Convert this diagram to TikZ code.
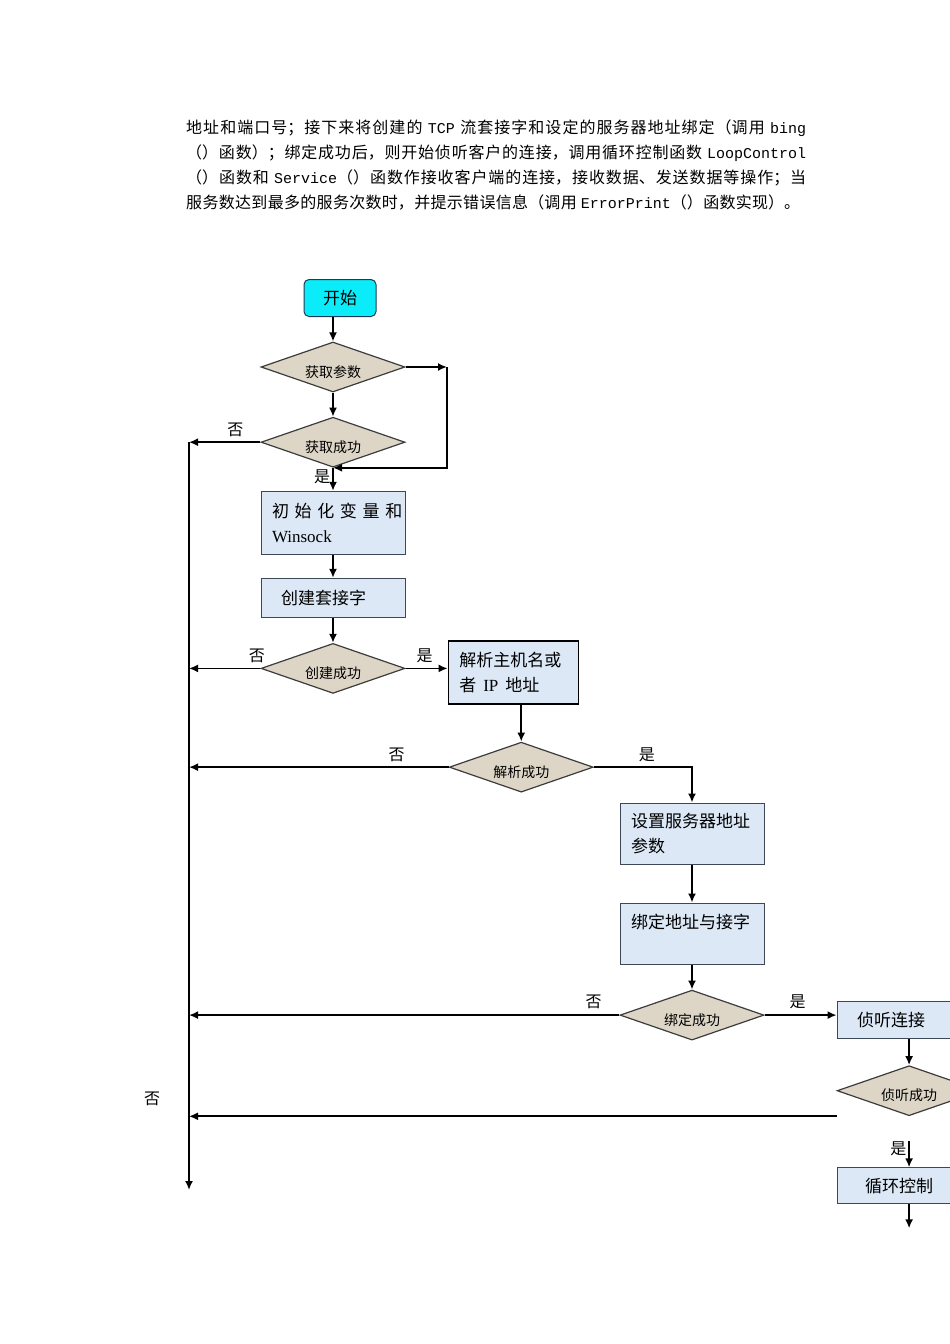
\documentclass[tikz,border=0pt]{standalone}
\usepackage{fontspec}
\usepackage{tikz}
\setmainfont{Noto Sans CJK SC}
\setmonofont{Liberation Mono}
\newfontfamily\serifen{Liberation Serif}
\usetikzlibrary{arrows.meta,positioning,shapes.geometric,calc}
\XeTeXlinebreaklocale "zh"
\XeTeXlinebreakskip=0pt plus 1pt

\definecolor{boxblue}{RGB}{220,232,246}
\definecolor{boxline}{RGB}{60,72,88}
\definecolor{dectan}{RGB}{221,214,199}
\definecolor{decline}{RGB}{60,60,60}
\definecolor{startcyan}{RGB}{10,236,250}
\definecolor{startline}{RGB}{30,60,80}

% one justified line of the text above the chart
\newcommand{\fullline}[2]{\parbox{#1}{\parfillskip=0pt\relax #2}}
\newcommand{\code}[1]{{\fontsize{15}{18}\ttfamily #1}}

\begin{document}
\begin{tikzpicture}[
  x=1pt, y=-1pt,
  node distance=24pt,
  para/.style={anchor=west, inner sep=0pt, font=\fontsize{16}{18}\selectfont},
  startbox/.style={draw=startline, line width=1pt, fill=startcyan, rounded corners=5pt, minimum width=72pt, minimum height=37pt, font=\fontsize{17}{20}\selectfont},
  box/.style={draw=boxline, line width=1pt, fill=boxblue, minimum width=144pt, minimum height=39pt, inner xsep=11pt, text width=122pt, align=left, font=\fontsize{17}{25}\selectfont},
  dec/.style={diamond, aspect=2.9, draw=decline, line width=1.2pt, fill=dectan, minimum width=144pt, minimum height=50pt, inner sep=0pt, text height=20pt, text depth=0pt, font=\fontsize{14}{16}\selectfont},
  arrow/.style={-{Latex[length=9pt,width=8pt]}, line width=1.7pt},
  lbl/.style={font=\fontsize{16}{18}\selectfont, inner sep=2pt}
]
\useasboundingbox (0,0) rectangle (950,1344);
\clip (0,0) rectangle (950,1344);

% Text above the chart
\node[para] (para1) at (186,128) {\fullline{620pt}{地址和端口号；接下来将创建的 \code{TCP} 流套接字和设定的服务器地址绑定（调用 \code{bing}}};
\node[para] (para2) at (186,153) {\fullline{620pt}{（）函数）；绑定成功后，则开始侦听客户的连接，调用循环控制函数 \code{LoopControl}}};
\node[para] (para3) at (186,178) {\fullline{620pt}{（）函数和 \code{Service}（）函数作接收客户端的连接，接收数据、发送数据等操作；当}};
\node[para] (para4) at (186,203) {\fullline{614pt}{服务数达到最多的服务次数时，并提示错误信息（调用 \code{ErrorPrint}（）函数实现）。}};

% Start
\node[startbox] (start) at (340,298) {开始};

% Parameters
\node[dec] (getp) at (333,367) {获取参数};
\node[dec, below=24pt of getp] (getok) {获取成功};

% Winsock and socket
\node[box, minimum height=63pt, below=23pt of getok] (init) {\makebox[120pt][s]{初 始 化 变 量 和}\\{\serifen Winsock}};
\node[box, below=23pt of init] (sock) {\hspace*{9pt}创建套接字};
\node[dec, below=25pt of sock] (mkok) {创建成功};

% Host name
\node[box, draw=black, line width=1.3pt, minimum width=130pt, text width=108pt, minimum height=63pt, right=42pt of mkok, yshift=-4pt] (resolve) {解析主机名或\\者\hspace{7pt}{\serifen IP}\hspace{7pt}地址};
\node[dec, below=37pt of resolve, xshift=8pt] (rsok) {解析成功};

% Server address
\node[box, minimum height=61pt] (setaddr) at (692,833.5) {设置服务器地址\\参数};
\node[box, minimum height=61pt, below=38pt of setaddr] (bind) {绑定地址与接字\\\mbox{}};
\node[dec, below=25pt of bind] (bdok) {绑定成功};

% Listen and loop
\node[box, minimum height=37pt, right=72pt of bdok, yshift=-5pt] (listen) {\hspace*{9pt}侦听连接};
\node[dec, below=26pt of listen] (lsok) {侦听成功};
\node[box, minimum height=36pt, below=51pt of lsok] (loop) {\hspace*{17pt}循环控制};

% Helper points
\coordinate (rail) at (189,442);
\coordinate (railend) at (189,1190);
\coordinate (back) at (447,367);
\coordinate (lsfail) at (lsok.south -| listen.west);
\coordinate (lsyes) at ([yshift=26pt]loop.north);
\coordinate (exit) at ([yshift=-24pt]loop.south);

% Arrows with labels
\draw[arrow] (start.south -| getp.north) -- (getp.north);
\draw[arrow] (getp) -- (getok);
\draw[arrow] (getp.east) -- (back);
\draw[arrow] (back) |- (getok.south);
\draw[arrow] (getok.west) -- node[lbl, above=3pt, pos=0.35] {否} (getok.west -| rail);
\draw[arrow] (rail) -- (railend);
\draw[arrow] (getok) -- node[lbl, left, pos=0.4] {是} (init);
\draw[arrow] (init) -- (sock);
\draw[arrow] (sock) -- (mkok);
\draw[arrow] (mkok.west) -- node[lbl, above=3pt, pos=0.05] {否} (mkok.west -| rail);
\draw[arrow] (mkok.east) -- node[lbl, above=3pt, pos=0.45] {是} (mkok.east -| resolve.west);
\draw[arrow] (resolve.south -| rsok.north) -- (rsok.north);
\draw[arrow] (rsok.west) -- node[lbl, above=3pt, pos=0.2] {否} (rsok.west -| rail);
\draw[arrow] (rsok.east) -| node[lbl, above=3pt, pos=0.27] {是} (setaddr.north);
\draw[arrow] (setaddr) -- (bind);
\draw[arrow] (bind) -- (bdok);
\draw[arrow] (bdok.west) -- node[lbl, above=3pt, pos=0.06] {否} (bdok.west -| rail);
\draw[arrow] (bdok.east) -- node[lbl, above=3pt, pos=0.46] {是} (bdok.east -| listen.west);
\draw[arrow] (listen) -- (lsok);
\draw[arrow] (lsfail) -- (lsfail -| rail);
\node[lbl] (nofail) at (152,1099) {否};
\draw[arrow] (lsyes) -- node[lbl, left, pos=0.3] {是} (loop);
\draw[arrow] (loop) -- (exit);

\end{tikzpicture}
\end{document}
